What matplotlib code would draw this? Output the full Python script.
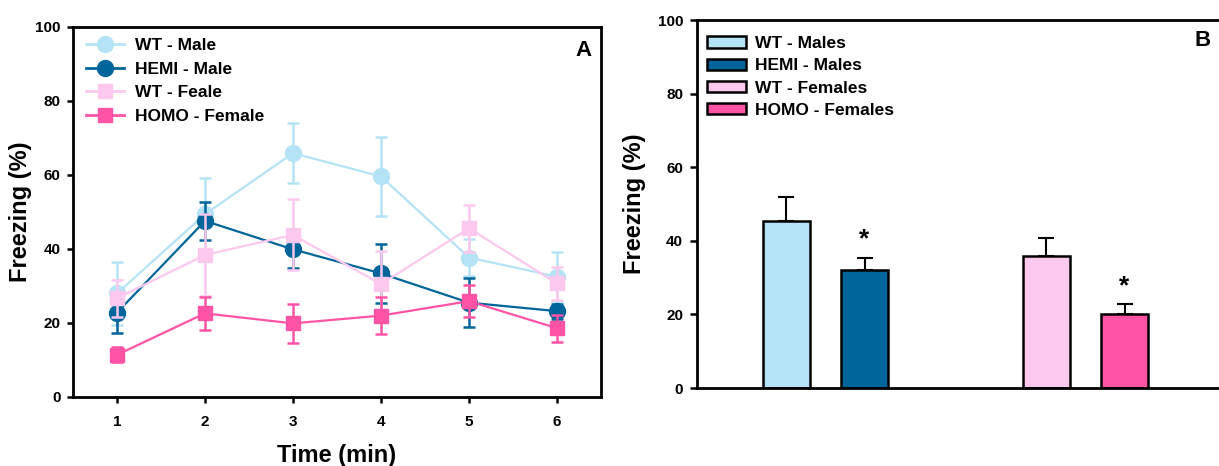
import matplotlib
matplotlib.use("Agg")
import matplotlib.pyplot as plt
from matplotlib.patches import Patch
from matplotlib.lines import Line2D

plt.rcParams['font.family'] = ['Liberation Sans', 'DejaVu Sans']
plt.rcParams['font.weight'] = 'bold'

# ---------------- data ----------------
time_min = [1, 2, 3, 4, 5, 6]
series_names = ["WT - Male", "HEMI - Male", "WT - Feale", "HOMO - Female"]
wt_male = [28.0, 49.4, 65.9, 59.6, 37.7, 32.5]
wt_male_err = [8.5, 9.7, 8.1, 10.6, 5.0, 6.6]
hemi_male = [22.8, 47.6, 39.9, 33.4, 25.5, 23.2]
hemi_male_err = [5.4, 5.2, 5.0, 8.0, 6.6, 2.0]
wt_female = [26.7, 38.4, 43.8, 30.5, 45.6, 30.7]
wt_female_err = [5.0, 11.0, 9.6, 9.0, 6.3, 4.5]
homo_female = [11.4, 22.6, 19.9, 22.0, 25.9, 18.6]
homo_female_err = [2.0, 4.5, 5.3, 5.0, 4.4, 3.6]

bar_names = ["WT - Males", "HEMI - Males", "WT - Females", "HOMO - Females"]
bar_values = [45.4, 32.1, 35.9, 20.0]
bar_errs = [6.6, 3.3, 4.8, 2.7]
bar_signif = [False, True, False, True]

yticks = [0, 20, 40, 60, 80, 100]

colors = ["#B5E3F6", "#00659A", "#FCC8EE", "#FF54A6"]
markers = ["o", "o", "s", "s"]

# ---------------- figure ----------------
fig = plt.figure(figsize=(12.19, 4.66), dpi=100)
W, H = 1219, 466

axA = fig.add_axes([73 / W, 1 - 397 / H, (601 - 73) / W, (397 - 27) / H])
axB = fig.add_axes([697 / W, 1 - 388 / H, (1225 - 697) / W, (388 - 20) / H])

LEG_FS = 12.5
TICK_FS = 11
LAB_FS = 17

# ---- Panel A ----
series = [(wt_male, wt_male_err), (hemi_male, hemi_male_err),
          (wt_female, wt_female_err), (homo_female, homo_female_err)]
for i, ((vals, errs), name) in enumerate(zip(series, series_names)):
    ms = 11.5 if markers[i] == "o" else 10.5
    axA.errorbar(time_min, vals, yerr=errs, color=colors[i], marker=markers[i],
                 markersize=ms, linewidth=1.6, elinewidth=1.8, capsize=4,
                 capthick=1.8, label=name, zorder=2 + i)

axA.set_xlim(0.5, 6.5)
axA.set_ylim(0, 100)
axA.set_xticks(time_min)
axA.set_yticks(yticks)
for sp in axA.spines.values():
    sp.set_linewidth(2.0)
axA.tick_params(axis='both', direction='out', length=4, width=1.8,
                labelsize=TICK_FS)
axA.tick_params(axis='y', pad=5)
axA.tick_params(axis='x', pad=9)
axA.set_xlabel("Time (min)", fontsize=LAB_FS, fontweight='bold', labelpad=11)
axA.set_ylabel("Freezing (%)", fontsize=LAB_FS, fontweight='bold', labelpad=2)
axA.text(0.982, 0.965, "A", transform=axA.transAxes, fontsize=16,
         fontweight='bold', ha='right', va='top')

handlesA = [Line2D([0], [0], color=colors[i], marker=markers[i],
                   markersize=11.5 if markers[i] == "o" else 10.5, linewidth=2)
            for i in range(4)]
legA = axA.legend(handlesA, series_names, loc='upper left', frameon=False,
                  fontsize=LEG_FS, handlelength=2.2, handletextpad=0.6,
                  labelspacing=0.49, borderaxespad=0.0, borderpad=0.0,
                  bbox_to_anchor=(13 / 528, 1 - 11 / 370))
for t in legA.get_texts():
    t.set_fontweight('bold')

# ---- Panel B ----
unit = 78.2
pos = [0, 1, 3.325, 4.325]
width = 0.605
for i in range(4):
    axB.bar(pos[i], bar_values[i], width=width, color=colors[i],
            edgecolor='black', linewidth=1.8, zorder=2)
    axB.errorbar(pos[i], bar_values[i], yerr=[[0], [bar_errs[i]]],
                 color='black', elinewidth=1.5, capsize=6, capthick=1.5,
                 fmt='none', zorder=1)
    if bar_signif[i]:
        axB.text(pos[i], bar_values[i] + bar_errs[i] + 1.8, "*",
                 ha='center', va='bottom', fontsize=19, fontweight='bold')

axB.set_xlim(-1.142, -1.142 + (1225 - 697) / unit)
axB.set_ylim(0, 100)
axB.set_yticks(yticks)
axB.set_xticks([])
axB.spines['right'].set_visible(False)
for sp in ['left', 'top', 'bottom']:
    axB.spines[sp].set_linewidth(2.0)
axB.tick_params(axis='y', direction='out', length=5, width=1.8, pad=5,
                labelsize=TICK_FS)
axB.set_ylabel("Freezing (%)", fontsize=LAB_FS, fontweight='bold', labelpad=8)
fig.text(1203 / W, 1 - 40 / H, "B", fontsize=16, fontweight='bold',
         ha='center', va='center')

handlesB = [Patch(facecolor=colors[i], edgecolor='black', linewidth=1.8)
            for i in range(4)]
legB = axB.legend(handlesB, bar_names, loc='upper left', frameon=False,
                  fontsize=LEG_FS, handlelength=2.25, handleheight=0.63,
                  handletextpad=0.5, labelspacing=0.42, borderaxespad=0.0,
                  borderpad=0.0, bbox_to_anchor=(10 / 528, 1 - 16 / 368))
for t in legB.get_texts():
    t.set_fontweight('bold')

fig.savefig("out.png", dpi=100)
